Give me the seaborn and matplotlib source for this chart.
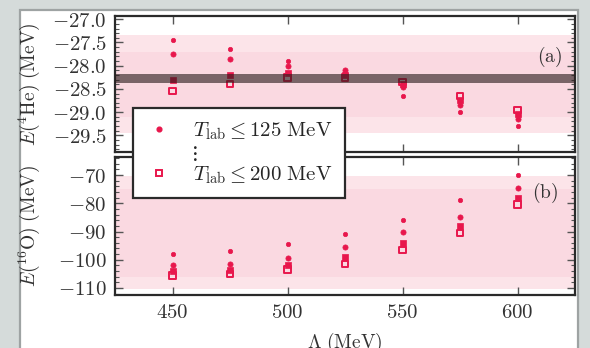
import numpy as np
import pandas as pd
import matplotlib
matplotlib.use("Agg")
import matplotlib.pyplot as plt
from matplotlib.lines import Line2D
from matplotlib.patches import Rectangle
from matplotlib.ticker import FixedLocator, MultipleLocator, FuncFormatter
import seaborn as sns

# ---- data ---------------------------------------------------------------
lam = [450, 475, 500, 525, 550, 575, 600]          # cutoff Lambda (MeV)
tlab_cuts = [125, 150, 175, 200]                   # T_lab fit ranges (MeV)

he4_125 = [-27.45, -27.65, -27.90, -28.15, -28.65, -29.00, -29.30]
he4_150 = [-27.75, -27.85, -28.00, -28.10, -28.45, -28.85, -29.15]
he4_175 = [-28.30, -28.20, -28.15, -28.20, -28.40, -28.75, -29.05]
he4_200 = [-28.55, -28.40, -28.25, -28.25, -28.35, -28.65, -28.95]

o16_125 = [-98.0, -97.0, -94.5, -91.0, -86.0, -79.0, -70.0]
o16_150 = [-102.0, -101.5, -99.5, -95.5, -90.0, -85.0, -74.5]
o16_175 = [-104.0, -103.5, -102.0, -99.0, -94.0, -88.0, -78.0]
o16_200 = [-105.5, -105.0, -103.5, -101.5, -96.5, -90.5, -80.5]

he4_exp = [-28.37, -28.18]          # experimental 4He band
he4_outer = [-29.45, -27.35]        # shaded ranges
he4_inner = [-29.10, -27.70]
o16_outer = [-110.5, -70.5]
o16_inner = [-106.0, -75.0]

x_ticks = [450, 500, 550, 600]
he4_ticks = [-29.5, -29.0, -28.5, -28.0, -27.5, -27.0]
o16_ticks = [-110, -100, -90, -80, -70]

rows = []
for cut, he, ox in zip(tlab_cuts, [he4_125, he4_150, he4_175, he4_200],
                       [o16_125, o16_150, o16_175, o16_200]):
    for l, e1, e2 in zip(lam, he, ox):
        rows.append({"Lambda": l, "Tlab": cut, "E_He4": e1, "E_O16": e2})
df = pd.DataFrame(rows)

# ---- style --------------------------------------------------------------
sns.set_style("ticks")
plt.rcParams.update({
    "mathtext.fontset": "cm",
    "font.family": "serif",
    "axes.linewidth": 1.6,
    "axes.edgecolor": "#2a2a2a",
    "xtick.direction": "in",
    "ytick.direction": "in",
    "xtick.top": True,
    "ytick.right": True,
    "xtick.major.size": 6,
    "ytick.major.size": 6,
    "ytick.minor.size": 3,
    "xtick.major.width": 1.0,
    "ytick.major.width": 1.0,
    "ytick.minor.width": 0.8,
    "xtick.color": "#555555",
    "ytick.color": "#555555",
    "xtick.labelcolor": "#333333",
    "ytick.labelcolor": "#333333",
})

red = "#e8174c"
styles = {
    125: dict(marker="o", s=10, color=red, edgecolor=red, linewidth=0.5),
    150: dict(marker="o", s=14, color=red, edgecolor=red, linewidth=0.5),
    175: dict(marker="s", s=16, color=red, edgecolor=red, linewidth=0.5),
    200: dict(marker="s", s=22, facecolor="none", edgecolor=red, linewidth=1.4),
}

fig = plt.figure(figsize=(5.9, 3.48), dpi=100, facecolor="#d5dbda")
fig.patches.append(Rectangle((20 / 590, -0.05), 558 / 590, 1.05 - 10 / 348,
                             transform=fig.transFigure, facecolor="white",
                             edgecolor="#9ea3a3", linewidth=1.6, zorder=-5))

left, width = 115 / 590, 460 / 590
ax1 = fig.add_axes([left, 1 - 152 / 348, width, 136 / 348])
ax2 = fig.add_axes([left, 1 - 295 / 348, width, 138 / 348])

pink_out = "#fbdbe2"
pink_in = "#f8cad5"

# (a) 4He
ax1.axhspan(*he4_outer, color=pink_out, alpha=0.75, lw=0, zorder=0)
ax1.axhspan(*he4_inner, color=pink_in, alpha=0.4, lw=0, zorder=0)
for cut in tlab_cuts:
    sns.scatterplot(data=df[df.Tlab == cut], x="Lambda", y="E_He4", ax=ax1,
                    legend=False, zorder=3, **styles[cut])
ax1.axhspan(*he4_exp, color="#2a1c1c", alpha=0.62, lw=0, zorder=4)

# (b) 16O
ax2.axhspan(*o16_outer, color=pink_out, alpha=0.75, lw=0, zorder=0)
ax2.axhspan(*o16_inner, color=pink_in, alpha=0.4, lw=0, zorder=0)
for cut in tlab_cuts:
    sns.scatterplot(data=df[df.Tlab == cut], x="Lambda", y="E_O16", ax=ax2,
                    legend=False, zorder=3, **styles[cut])

for ax in (ax1, ax2):
    ax.set_xlim(425, 625)
    ax.xaxis.set_major_locator(FixedLocator(x_ticks))
    ax.tick_params(axis="both", labelsize=15, pad=6)
    ax.set_facecolor("white")

ax1.set_ylim(-29.86, -26.93)
ax1.yaxis.set_major_locator(FixedLocator(he4_ticks))
ax1.yaxis.set_minor_locator(MultipleLocator(0.1))
ax1.yaxis.set_major_formatter(FuncFormatter(lambda v, p: r"$%.1f$" % v))
ax1.tick_params(axis="x", labelbottom=False)

ax2.set_ylim(-112.5, -63.6)
ax2.yaxis.set_major_locator(FixedLocator(o16_ticks))
ax2.yaxis.set_minor_locator(MultipleLocator(2))
ax2.yaxis.set_major_formatter(FuncFormatter(lambda v, p: r"$%d$" % v))
ax2.xaxis.set_major_formatter(FuncFormatter(lambda v, p: r"$%d$" % v))

ax1.set_xlabel("")
ax1.set_ylabel(r"$E(^4\mathrm{He})\ (\mathrm{MeV})$", fontsize=14, color="#333333")
ax2.set_ylabel(r"$E(^{16}\mathrm{O})\ (\mathrm{MeV})$", fontsize=14, color="#333333")
ax1.yaxis.set_label_coords(-0.158, 0.5)
ax2.yaxis.set_label_coords(-0.158, 0.5)
ax2.set_xlabel(r"$\Lambda\ (\mathrm{MeV})$", fontsize=14, color="#333333", labelpad=6)

ax1.text(0.945, 0.70, r"$(\mathrm{a})$", transform=ax1.transAxes, fontsize=14,
         ha="center", va="center", color="#333333", zorder=5)
ax2.text(0.935, 0.74, r"$(\mathrm{b})$", transform=ax2.transAxes, fontsize=14,
         ha="center", va="center", color="#333333", zorder=5)

# legend spanning both panels
h_first = Line2D([], [], linestyle="none", marker="o", markersize=3.4,
                 color=red)
h_dots = Line2D([], [], linestyle="none", marker=None)
h_last = Line2D([], [], linestyle="none", marker="s", markersize=5.0,
                markerfacecolor="none", markeredgecolor=red, markeredgewidth=1.4)
leg = fig.legend([h_first, h_dots, h_last],
                 [r"$T_{\mathrm{lab}} \leq 125\ \mathrm{MeV}$", r"$\!\!\vdots$",
                  r"$T_{\mathrm{lab}} \leq 200\ \mathrm{MeV}$"],
                 loc="upper left", bbox_to_anchor=(133 / 590, 1 - 108 / 348),
                 borderaxespad=0, fontsize=15, frameon=True, fancybox=False,
                 framealpha=1, edgecolor="#2a2a2a", handlelength=1.3,
                 handletextpad=1.0, labelspacing=0.08, borderpad=0.6)
leg.get_frame().set_linewidth(1.6)
leg.set_zorder(10)

fig.savefig("out.png", dpi=100, facecolor=fig.get_facecolor())
